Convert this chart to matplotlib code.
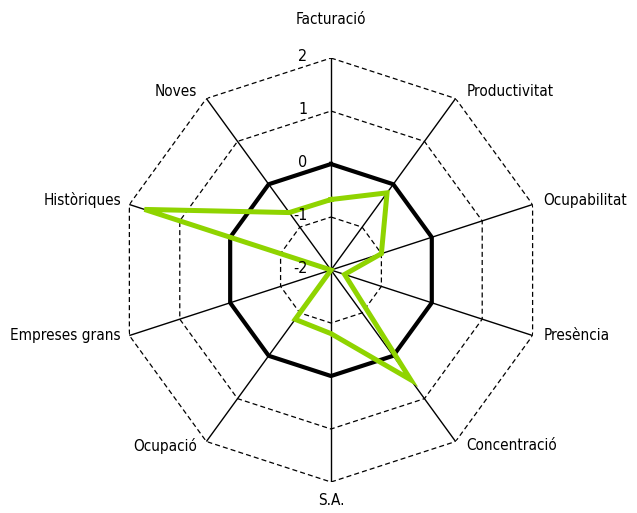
import numpy as np
import matplotlib.pyplot as plt

plt.rcParams['font.family'] = ['DejaVu Sans']
plt.rcParams['font.stretch'] = 'condensed'

categories = ['Facturació', 'Productivitat', 'Ocupabilitat', 'Presència', 'Concentració',
              'S.A.', 'Ocupació', 'Empreses grans', 'Històriques', 'Noves']
values = [-0.67, -0.2, -1.0, -1.73, 0.56, -0.8, -0.85, -2.0, 1.7, -0.66]
levels = [-2, -1, 0, 1, 2]

n = len(categories)
theta = np.arange(n) * 2 * np.pi / n
theta_c = np.append(theta, theta[0])

fig = plt.figure(figsize=(6.37, 5.13), dpi=100)
ax = fig.add_axes([0.1868, 0.0604, 0.6656, 0.8265], projection='polar')
ax.set_theta_zero_location('N')
ax.set_theta_direction(-1)
ax.set_ylim(-2, 2)
ax.grid(False)
ax.set_xticks([])
ax.set_yticks([])
ax.spines['polar'].set_visible(False)
ax.patch.set_alpha(0)

# spokes
for t in theta:
    ax.plot([t, t], [-2, 2], color='black', lw=1, zorder=1)

# grid polygons
for lv in [-1, 1, 2]:
    ax.plot(theta_c, [lv] * (n + 1), color='black', lw=0.9, ls=(0, (4, 2.5)), zorder=1)
ax.plot(theta_c, [0] * (n + 1), color='black', lw=3, zorder=2)

# data
vals = np.append(values, values[0])
ax.plot(theta_c, vals, color='#8FD400', lw=3.6, zorder=3, solid_joinstyle='miter')

# radial tick labels
for lv in levels:
    ax.annotate(str(lv), xy=(0, lv), xytext=(-17, 1), textcoords='offset points',
                ha='right', va='center', fontsize=11.5)

# category labels
offsets = [(0, 28), (8, 5), (8, 3), (8, 0), (8, -3), (0, -13), (-7, -3), (-6, 0), (-6, 3), (-7, 5)]
for t, lab, off in zip(theta, categories, offsets):
    if off[0] > 0:
        ha = 'left'
    elif off[0] < 0:
        ha = 'right'
    else:
        ha = 'center'
    ax.annotate(lab, xy=(t, 2), xytext=off, textcoords='offset points',
                ha=ha, va='center', fontsize=11)

plt.savefig('out.png', dpi=100)
